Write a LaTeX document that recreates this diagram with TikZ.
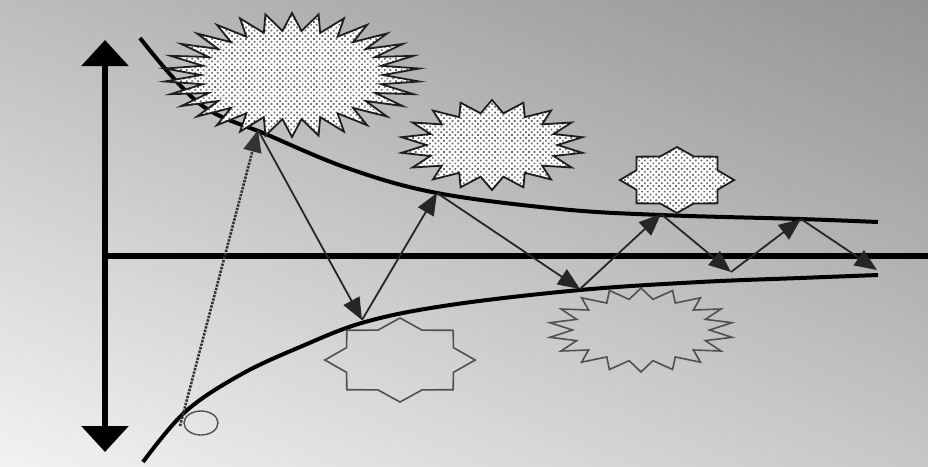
\documentclass[tikz,border=0pt]{standalone}
\usepackage{tikz}
\usetikzlibrary{shapes.geometric, arrows.meta, patterns.meta, shadings, positioning}
\definecolor{starline}{RGB}{30, 30, 30}
\definecolor{ghostline}{RGB}{80, 80, 80}

\begin{document}
\begin{tikzpicture}[
    x=0.5mm, y=-0.5mm,
    axis/.style={line width=2.6mm, black},
    axisarrow/.style={{Triangle[width=23mm, length=13mm]}-{Triangle[width=23mm, length=13mm]}, line width=3mm, black},
    curve/.style={line width=2mm, black},
    ray/.style={-{Triangle[width=9mm, length=11mm]}, line width=0.9mm, black!85},
    dashedray/.style={-{Triangle[width=9mm, length=11mm]}, line width=1.3mm, dash pattern=on 1.2mm off 0.6mm, black!80},
    spark/.style={star, draw=starline, line width=0.9mm, inner sep=0pt, preaction={fill=white}, pattern={Dots[distance=2mm, radius=0.6mm, angle=45]}, pattern color=black!60},
    hollow/.style={star, draw=ghostline, line width=0.8mm, inner sep=0pt}
]
    \useasboundingbox (0,0) rectangle (928,466);

    % --- Background ---
    \shade[upper left=black!26, upper right=black!42, lower left=black!5, lower right=black!22] (0,0) rectangle (928,466);

    % --- Bounce points ---
    \coordinate (b0) at (180,426);
    \coordinate (b1) at (258,130);
    \coordinate (b2) at (362,320);
    \coordinate (b3) at (437,193);
    \coordinate (b4) at (580,289);
    \coordinate (b5) at (661,214);
    \coordinate (b6) at (731,272);
    \coordinate (b7) at (801,219);
    \coordinate (b8) at (877,270);

    % --- Upper curve (behind the stars) ---
    \draw[curve] plot[smooth, tension=0.6] coordinates {(140,38) (200,104) (268,135) (350,169) (437,193) (560,209) (661,215) (800,219) (878,222)};

    % --- Stars ---
    \node[spark, star points=30, star point ratio=1.4, minimum size=62mm, xscale=2.06] (bigstar) at (292,75) {};
    \node[spark, star points=18, star point ratio=1.4, minimum size=45mm, xscale=2.04] (midstar) at (492,145) {};
    \node[spark, star points=8, star point ratio=1.3, minimum size=33mm, xscale=1.73] (smallstar) at (677,180) {};
    \node[hollow, star points=8, star point ratio=1.3, minimum size=42mm, xscale=1.79] (lowstar) at (400,360) {};
    \node[hollow, star points=18, star point ratio=1.35, minimum size=42mm, xscale=2.2] (burststar) at (641,330) {};
    \node[draw=ghostline, line width=0.7mm, ellipse, minimum width=17mm, minimum height=12mm, inner sep=0pt] (loop) at (201,423) {};

    % --- Lower curve ---
    \draw[curve] plot[smooth, tension=0.6] coordinates {(143,462) (185,412) (240,375) (300,347) (365,322) (450,305) (580,290) (700,282) (800,278) (878,275)};

    % --- Axes ---
    \coordinate (ytop) at (105,40);
    \coordinate (ybot) at (105,452);
    \coordinate (origin) at (105,256);
    \coordinate (xend) at (928,256);
    \draw[axisarrow] (ybot) -- (ytop);
    \draw[axis] (origin) -- (xend);

    % --- Bouncing rays ---
    \draw[dashedray] (b0) -- (b1);
    \draw[ray] (b1) -- (b2);
    \draw[ray] (b2) -- (b3);
    \draw[ray] (b3) -- (b4);
    \draw[ray] (b4) -- (b5);
    \draw[ray] (b5) -- (b6);
    \draw[ray] (b6) -- (b7);
    \draw[ray] (b7) -- (b8);

\end{tikzpicture}
\end{document}
